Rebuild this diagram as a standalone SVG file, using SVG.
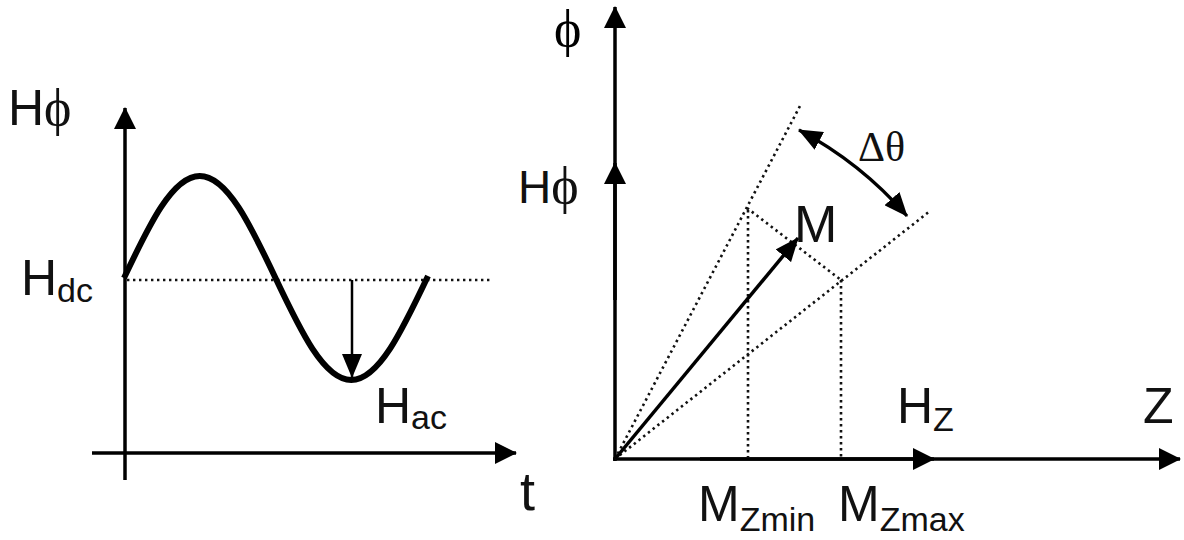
<svg xmlns="http://www.w3.org/2000/svg" width="1184" height="540" viewBox="0 0 1184 540">
<style>
.ax{stroke:#000;stroke-width:3.5;fill:none}
.dot{stroke:#111;stroke-width:2.6;stroke-dasharray:2.4 3.6;fill:none}
.sans{font-family:"Liberation Sans",Arial,sans-serif;fill:#111}
.serif{font-family:"Liberation Serif","DejaVu Serif",serif;fill:#111}
.big{font-size:50px}
.sub{font-size:34px}
.phi{font-family:"Liberation Serif","DejaVu Serif",serif;font-size:52px}
</style>
<defs>
<marker id="ah" markerUnits="userSpaceOnUse" markerWidth="22" markerHeight="22" refX="21" refY="11" orient="auto"><path d="M0,0 L22,11 L0,22 z" fill="#000"/></marker>
<marker id="ahs" markerUnits="userSpaceOnUse" markerWidth="24" markerHeight="20" refX="23" refY="10" orient="auto-start-reverse"><path d="M0,0 L24,10 L0,20 z" fill="#000"/></marker>
</defs>
<rect width="1184" height="540" fill="#fff"/>
<g id="connectors">
<line class="ax" x1="125" y1="480" x2="125" y2="108" stroke-width="3" marker-end="url(#ah)"/>
<line class="ax" x1="92" y1="453" x2="516" y2="453" stroke-width="3.2" marker-end="url(#ah)"/>
<line class="dot" x1="127" y1="280" x2="493" y2="280"/>
<path d="M124,278 C148.7,225.75 172.34,176 199.75,176 S250.8,225.75 275.5,278 S323.84,380 351.25,380 S402.3,330.25 428,276" fill="none" stroke="#000" stroke-width="6"/>
<line x1="352" y1="280" x2="352" y2="377" stroke="#000" stroke-width="2.5" marker-end="url(#ahs)"/>
<line class="ax" x1="615" y1="461" x2="615" y2="7" stroke-width="4" marker-end="url(#ah)"/>
<line class="ax" x1="615" y1="300" x2="615" y2="163" stroke-width="4" marker-end="url(#ah)"/>
<line class="ax" x1="613" y1="459" x2="1180" y2="459" stroke-width="4" marker-end="url(#ah)"/>
<line class="ax" x1="700" y1="459" x2="934" y2="459" stroke-width="4" marker-end="url(#ah)"/>
<line class="dot" x1="615" y1="459" x2="800" y2="106"/>
<line class="dot" x1="615" y1="459" x2="930" y2="211"/>
<line class="dot" x1="747" y1="208" x2="841" y2="280"/>
<line class="dot" x1="748" y1="210" x2="748" y2="457"/>
<line class="dot" x1="841" y1="280" x2="841" y2="457"/>
<line x1="615" y1="459" x2="798" y2="238" stroke="#000" stroke-width="3.5" marker-end="url(#ahs)"/>
<path d="M799,130 A378,378 0 0 1 907,216" fill="none" stroke="#000" stroke-width="3.2" marker-start="url(#ahs)" marker-end="url(#ahs)"/>
</g>
<g id="label-hphi-left"><text class="sans big" x="8" y="125">H<tspan class="phi">ϕ</tspan></text></g>
<g id="label-hdc"><text class="sans big" x="21" y="295">H<tspan class="sub" dy="7">dc</tspan></text></g>
<g id="label-hac"><text class="sans big" x="375" y="423">H<tspan class="sub" dy="6">ac</tspan></text></g>
<g id="label-t"><text class="sans" font-size="54" x="520" y="510">t</text></g>
<g id="label-phi"><text class="phi" x="554" y="46">ϕ</text></g>
<g id="label-hphi-right"><text class="sans" font-size="46" x="518" y="203">H<tspan class="phi" font-size="48">ϕ</tspan></text></g>
<g id="label-dtheta"><text class="serif" font-size="42" x="858" y="161">Δθ</text></g>
<g id="label-m"><text class="sans" font-size="52" x="794" y="242">M</text></g>
<g id="label-hz"><text class="sans big" x="897" y="423">H<tspan class="sub" dy="8">Z</tspan></text></g>
<g id="label-z"><text class="sans big" x="1143" y="423">Z</text></g>
<g id="label-mzmin"><text class="sans big" x="698" y="521">M<tspan class="sub" dy="10">Zmin</tspan></text></g>
<g id="label-mzmax"><text class="sans big" x="838" y="521">M<tspan class="sub" dy="10">Zmax</tspan></text></g>
</svg>
